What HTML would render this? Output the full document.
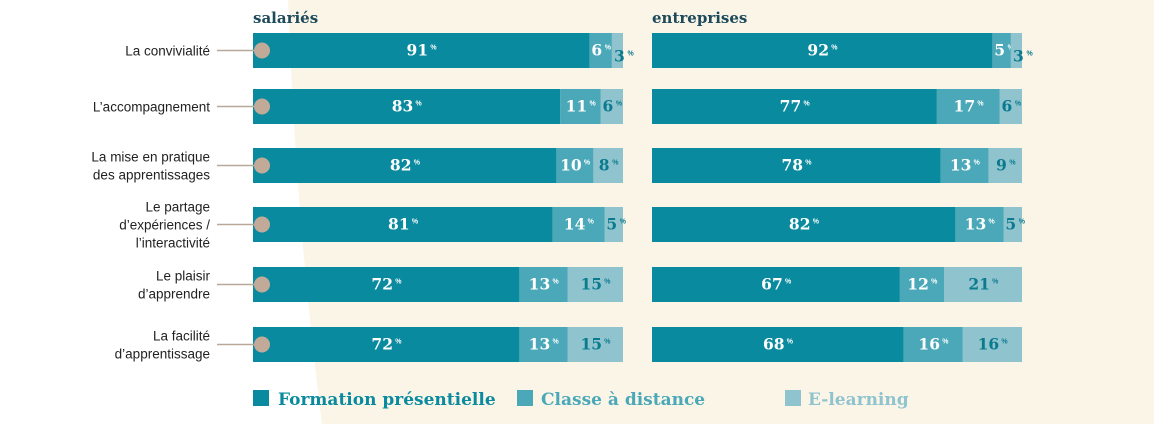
<!DOCTYPE html>
<html><head><meta charset="utf-8"><style>
html,body{margin:0;padding:0;width:1154px;height:424px;overflow:hidden;background:#fff;}
svg{display:block}
.lbl{font-family:"Liberation Sans",Arial,sans-serif;font-size:13.5px;fill:#222;}
.num{font-family:"DejaVu Serif","Liberation Serif",serif;font-weight:bold;font-size:15.5px;}
.pct{font-family:"Liberation Sans",sans-serif;font-weight:bold;font-size:7px;}
.ttl{font-family:"DejaVu Serif","Liberation Serif",serif;font-weight:bold;font-size:15px;fill:#1d4a5a;}
.leg{font-family:"DejaVu Serif","Liberation Serif",serif;font-weight:bold;font-size:17px;}
</style></head><body>
<svg id="chart" width="1154" height="424" viewBox="0 0 1154 424">
<path d="M288,0 Q296,220 322,424 L1154,424 L1154,0 Z" fill="#fbf5e8"/>
<text class="ttl" x="253" y="23">salariés</text>
<text class="ttl" x="652" y="23">entreprises</text>
<g id="bars"></g>
<g>
<rect x="253" y="390" width="16" height="16" fill="#0a8a9e"/>
<text class="leg" x="278" y="405" fill="#0a8a9e">Formation présentielle</text>
<rect x="517" y="390" width="16" height="16" fill="#4aa8b8"/>
<text class="leg" x="541" y="405" fill="#4aa8b8">Classe à distance</text>
<rect x="785" y="390" width="16" height="16" fill="#8fc4cf"/>
<text class="leg" x="808" y="405" fill="#8fc4cf">E-learning</text>
</g>
</svg>
<script>
const categories=[["La convivialité"],["L’accompagnement"],["La mise en pratique","des apprentissages"],["Le partage","d’expériences /","l’interactivité"],["Le plaisir","d’apprendre"],["La facilité","d’apprentissage"]];
const salPresentiel=[91,83,82,81,72,72];
const salDistance=[6,11,10,14,13,13];
const salElearning=[3,6,8,5,15,15];
const entPresentiel=[92,77,78,82,67,68];
const entDistance=[5,17,13,13,12,16];
const entElearning=[3,6,9,5,21,16];
const NS="http://www.w3.org/2000/svg";
const g=document.getElementById('bars');
const rowY=[33,89,148,207,267,327], barH=35, barW=370;
const colors=['#0a8a9e','#4aa8b8','#8fc4cf'];
const txtCol=['#fff','#fff','#0a7a8e'];
function mk(t,a){const e=document.createElementNS(NS,t);for(const k in a)e.setAttribute(k,a[k]);g.appendChild(e);return e;}
function panel(x0,series,name){
  for(let i=0;i<categories.length;i++){
    const vals=series.map(s=>s[i]);const tot=vals.reduce((a,b)=>a+b,0);
    let x=x0;
    vals.forEach((v,j)=>{
      const w=v/tot*barW;
      const r=mk('rect',{x:x,y:rowY[i],width:w,height:barH,fill:colors[j]});
      
      
      let cx=x+w/2-4, cy=rowY[i]+barH/2+5;
      if(w<15){ if(j===2){cx=x+w/2+2;cy+=6;} else {cx=x+w/2-3;cy-=5;} }
      else if(w<22){ cx=x+w/2-2; }
      const t=mk('text',{class:'num',x:cx,y:cy,'text-anchor':'middle',fill:txtCol[j]});
      t.textContent=v;
      
      
      const p=mk('text',{class:'pct',x:cx+String(v).length*5+3,y:cy-6,fill:txtCol[j]});
      p.textContent='%';
      
      
      x+=w;
    });
  }
}
panel(253,[salPresentiel,salDistance,salElearning],'salaries');
panel(652,[entPresentiel,entDistance,entElearning],'entreprises');
categories.forEach((lines,i)=>{
  const cy=rowY[i]+barH/2;
  const l=mk('line',{x1:217,y1:cy,x2:258,y2:cy,stroke:'#b8a89a','stroke-width':1.5});
  
  
  const c=mk('circle',{cx:262,cy:cy,r:8,fill:'#c2aa98'});
  
  
  const n=lines.length, lh=18, top=cy-(n-1)*lh/2+5;
  lines.forEach((s,k)=>{
    const t=mk('text',{class:'lbl',x:210,y:top+k*lh,'text-anchor':'end'});
    t.textContent=s;
    
    
  });
});
</script>
</body></html>
